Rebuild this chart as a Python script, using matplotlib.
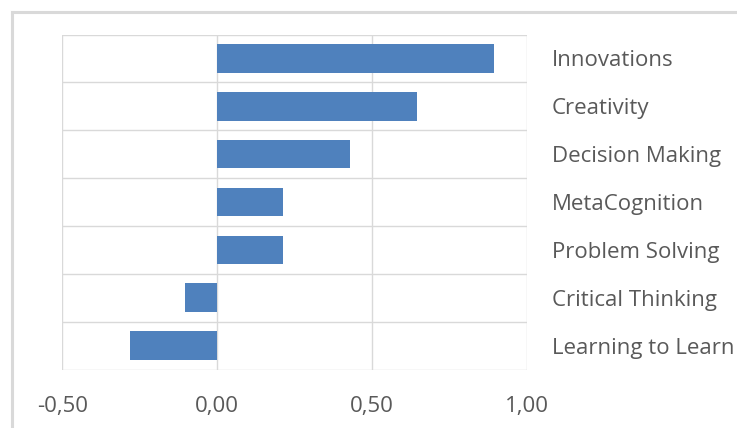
import matplotlib
matplotlib.use("Agg")
import matplotlib.pyplot as plt
from matplotlib.lines import Line2D

categories = ["Innovations", "Creativity", "Decision Making", "MetaCognition",
              "Problem Solving", "Critical Thinking", "Learning to Learn"]
values = [0.894, 0.645, 0.43, 0.214, 0.214, -0.104, -0.282]
xticks = [-0.5, 0.0, 0.5, 1.0]
xticklabels = ["-0,50", "0,00", "0,50", "1,00"]

plt.rcParams['font.family'] = ['Open Sans', 'DejaVu Sans']

W, H = 737, 428
fig = plt.figure(figsize=(W / 100, H / 100), dpi=100)
fig.patch.set_facecolor("white")

# chart area border (cropped at right and bottom in the reference)
bx, by = 11.5 / W, 1 - 11.5 / H
fig.add_artist(Line2D([bx, 1.0], [by, by], transform=fig.transFigure,
                      color="#d9d9d9", linewidth=2.2))
fig.add_artist(Line2D([bx, bx], [0.0, by], transform=fig.transFigure,
                      color="#d9d9d9", linewidth=2.2))

left, right, top, bottom = 62.3, 526.7, 34.5, 369.5
ax = fig.add_axes([left / W, 1 - bottom / H, (right - left) / W, (bottom - top) / H])

n = len(categories)
ypos = list(range(n))
ax.barh(ypos, values, height=0.6, color="#4f81bd", zorder=3)
ax.set_ylim(n - 0.5, -0.5)
ax.set_xlim(-0.5, 1.0)

for b in [i - 0.5 for i in range(n + 1)]:
    ax.axhline(b, color="#d9d9d9", linewidth=1.0, zorder=1)
for xt in xticks:
    ax.axvline(xt, color="#d9d9d9", linewidth=1.0, zorder=1)

for s in ax.spines.values():
    s.set_visible(False)

ax.yaxis.tick_right()
ax.set_yticks(ypos)
ax.set_yticklabels(categories, fontsize=16, color="#595959")
ax.tick_params(axis="y", length=0, pad=18)

ax.set_xticks(xticks)
ax.set_xticklabels(xticklabels, fontsize=16, color="#595959")
ax.tick_params(axis="x", length=0, pad=19)

fig.savefig("out.png", dpi=100, facecolor="white")
